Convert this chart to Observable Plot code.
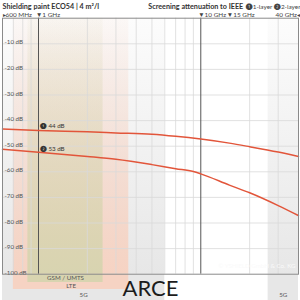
<!DOCTYPE html>
<html><head><meta charset="utf-8">
<script src="https://cdn.jsdelivr.net/npm/d3@7"></script>
<script src="https://cdn.jsdelivr.net/npm/@observablehq/plot@0.6"></script>
<style>html,body{margin:0;padding:0;background:#fff;overflow:hidden}</style>
</head><body><div id="chart"></div>
<script>
// ---- data ----
const freqs1 = [0.6, 1, 2, 3, 5, 7, 10, 15, 20, 30, 40];
const layer1 = [-43.3, -43.9, -44.4, -44.8, -45.3, -46.1, -47.2, -48.8, -50.2, -52.3, -54.0];
const freqs2 = [0.6, 1, 2, 3, 5, 7, 9, 10, 15, 20, 30, 40];
const layer2 = [-51.2, -52.4, -54.0, -55.1, -57.2, -58.8, -59.9, -60.8, -65.2, -68.2, -73.2, -77.1];
const seriesLabels = ["\u2776 44 dB", "\u2777 53 dB"];
const seriesLabelValues = [-44, -53];
const seriesLabelFreq = 1;
const bandNames = ["5G", "5G", "LTE", "GSM / UMTS"];
const bandStart = [0.6, 26, 0.7, 0.86];
const bandEnd = [6, 40, 3.6, 2.5];
const yTicks = [-10, -20, -30, -40, -50, -60, -70, -80, -90, -100];
const gridFreqs = [0.7, 0.8, 0.9, 2, 3, 4, 5, 6, 7, 8, 9, 20, 30];
const markerFreqs = [1, 10];
const headerStartFreq = 0.6, headerStartLabel = "\u25B8600 MHz";
const headerMidFreqs = [1, 10, 15];
const headerMidLabels = ["\u25BC1 GHz", "\u25BC10 GHz", "\u25BC15 GHz"];
const headerEndFreq = 40, headerEndLabel = "40 GHz\u25C2";
const title = "Shielding paint ECO54 | 4 m\u00B2/l";
const subtitle = "Screening attenuation to IEEE";
const legendText = "\u27761-layer \u27772-layer";
const copyright = "\u00A9 YSHIELD GmbH & Co. KG";
const logoText = "ARCE";

// ---- styles / layout ----
const W = 300, H = 300, mTop = 17.7, mBottom = 26.3, mLeft = 2, mRight = 2;
const pxPerDb = (H - mTop - mBottom) / 100;
const bandColors = ["#e7e7e7", "#e7e7e7", "#f6d3c3", "#d8d4b0"];
const bandTopOpacity = [0.12, 0.12, 0.1, 0.08];
const bandExtPx = [26.3, 26.3, 15.3, 8.3];
const lineColor = "#e2553a";
const font = "Lato, 'Open Sans', sans-serif";

const series = [
  freqs1.map((f, i) => ({f, v: layer1[i], s: 1})),
  freqs2.map((f, i) => ({f, v: layer2[i], s: 2}))
];

const marks = [];
bandNames.forEach((n, i) => {
  marks.push(Plot.rect([i], {x1: j => bandStart[j], x2: j => bandEnd[j], y1: -100, y2: 0, fill: `url(#band-${i})`}));
  marks.push(Plot.rect([i], {x1: j => bandStart[j], x2: j => bandEnd[j], y1: -100, y2: -100 - bandExtPx[i] / pxPerDb, fill: bandColors[i]}));
});
marks.push(Plot.text(bandNames.map((n, i) => i), {
  x: i => Math.sqrt(bandStart[i] * bandEnd[i]),
  y: i => {
    const top = i === 3 ? 0 : i === 2 ? bandExtPx[3] : bandExtPx[2];
    return -100 - ((top + bandExtPx[i]) / 2) / pxPerDb;
  },
  text: i => bandNames[i], fill: "#555", fontSize: 6.2
}));
marks.push(Plot.ruleY(yTicks.slice(0, -1), {stroke: "#d9d9d9", strokeWidth: 0.8}));
marks.push(Plot.ruleX(gridFreqs, {stroke: "#d9d9d9", strokeWidth: 0.8}));
marks.push(Plot.ruleX(markerFreqs, {stroke: "#555", strokeWidth: 1}));
marks.push(Plot.text(yTicks, {frameAnchor: "left", y: d => d, text: d => `${d} dB`, textAnchor: "start", lineAnchor: "bottom", dx: 2, dy: 0.5, fill: "#555", fontSize: 6.2}));
series.forEach(s => marks.push(Plot.line(s, {x: "f", y: "v", stroke: lineColor, strokeWidth: 1.5, curve: "monotone-x"})));
marks.push(Plot.text(seriesLabels, {x: () => seriesLabelFreq, y: (d, i) => seriesLabelValues[i], text: d => d, textAnchor: "start", lineAnchor: "bottom", dx: 1.5, dy: -3, fill: "#333", fontSize: 6.2}));
marks.push(Plot.text([copyright], {frameAnchor: "bottom-right", text: d => d, textAnchor: "end", dx: -3, dy: -6.5, fill: "#fafafa", fontSize: 6.2}));
// header
marks.push(Plot.text([title], {frameAnchor: "top-left", text: d => d, textAnchor: "start", dy: -14, fontWeight: "bold", fill: "#333", fontSize: 7.2}));
marks.push(Plot.text([legendText], {frameAnchor: "top-right", text: d => d, textAnchor: "end", dx: 2, dy: -14, fill: "#444", fontSize: 6.4}));
marks.push(Plot.text([subtitle], {frameAnchor: "top-right", text: d => d, textAnchor: "end", dx: -40, dy: -14, fontWeight: "bold", fill: "#333", fontSize: 7.2}));
marks.push(Plot.text([headerStartFreq], {x: d => d, frameAnchor: "top", text: () => headerStartLabel, textAnchor: "start", dy: -6, fill: "#444", fontSize: 6.4}));
marks.push(Plot.text(headerMidFreqs, {x: d => d, frameAnchor: "top", text: (d, i) => headerMidLabels[i], textAnchor: "start", dx: -2.5, dy: -6, fill: "#444", fontSize: 6.4}));
marks.push(Plot.text([headerEndFreq], {x: d => d, frameAnchor: "top", text: () => headerEndLabel, textAnchor: "end", dx: 1.5, dy: -6, fill: "#444", fontSize: 6.4}));
// logo
marks.push(Plot.text([logoText], {frameAnchor: "bottom", text: d => d, dy: 21.5, fill: "#1c1c1c", fontSize: 22, fontWeight: 400}));
marks.push(Plot.frame({stroke: "#8a8a8a", strokeWidth: 1}));

const chart = Plot.plot({
  width: W, height: H,
  marginTop: mTop, marginBottom: mBottom, marginLeft: mLeft, marginRight: mRight,
  x: {type: "log", domain: [0.6, 40], axis: null},
  y: {domain: [-100, 0], axis: null},
  style: {fontFamily: font, background: "white", overflow: "visible"},
  marks
});
document.getElementById("chart").appendChild(chart);

const defs = d3.select(chart).insert("defs", ":first-child");
bandColors.forEach((c, i) => {
  const g = defs.append("linearGradient").attr("id", `band-${i}`).attr("x1", 0).attr("y1", 0).attr("x2", 0).attr("y2", 1);
  g.append("stop").attr("offset", 0).attr("stop-color", c).attr("stop-opacity", bandTopOpacity[i]);
  g.append("stop").attr("offset", 1).attr("stop-color", c).attr("stop-opacity", 1);
});

// place bold subtitle right before the legend text
const texts = Array.from(chart.querySelectorAll("text"));
const legNode = texts.find(t => t.textContent === legendText);
const subNode = texts.find(t => t.textContent === subtitle);
if (legNode && subNode) {
  const lb = legNode.getBBox(), sb = subNode.getBBox();
  const lm = legNode.getCTM(), sm = subNode.getCTM();
  const legLeft = lb.x + lm.e, subRight = sb.x + sb.width + sm.e;
  subNode.setAttribute("dx", (legLeft - 2.5 - subRight).toFixed(2));
}
</script>
</body></html>
